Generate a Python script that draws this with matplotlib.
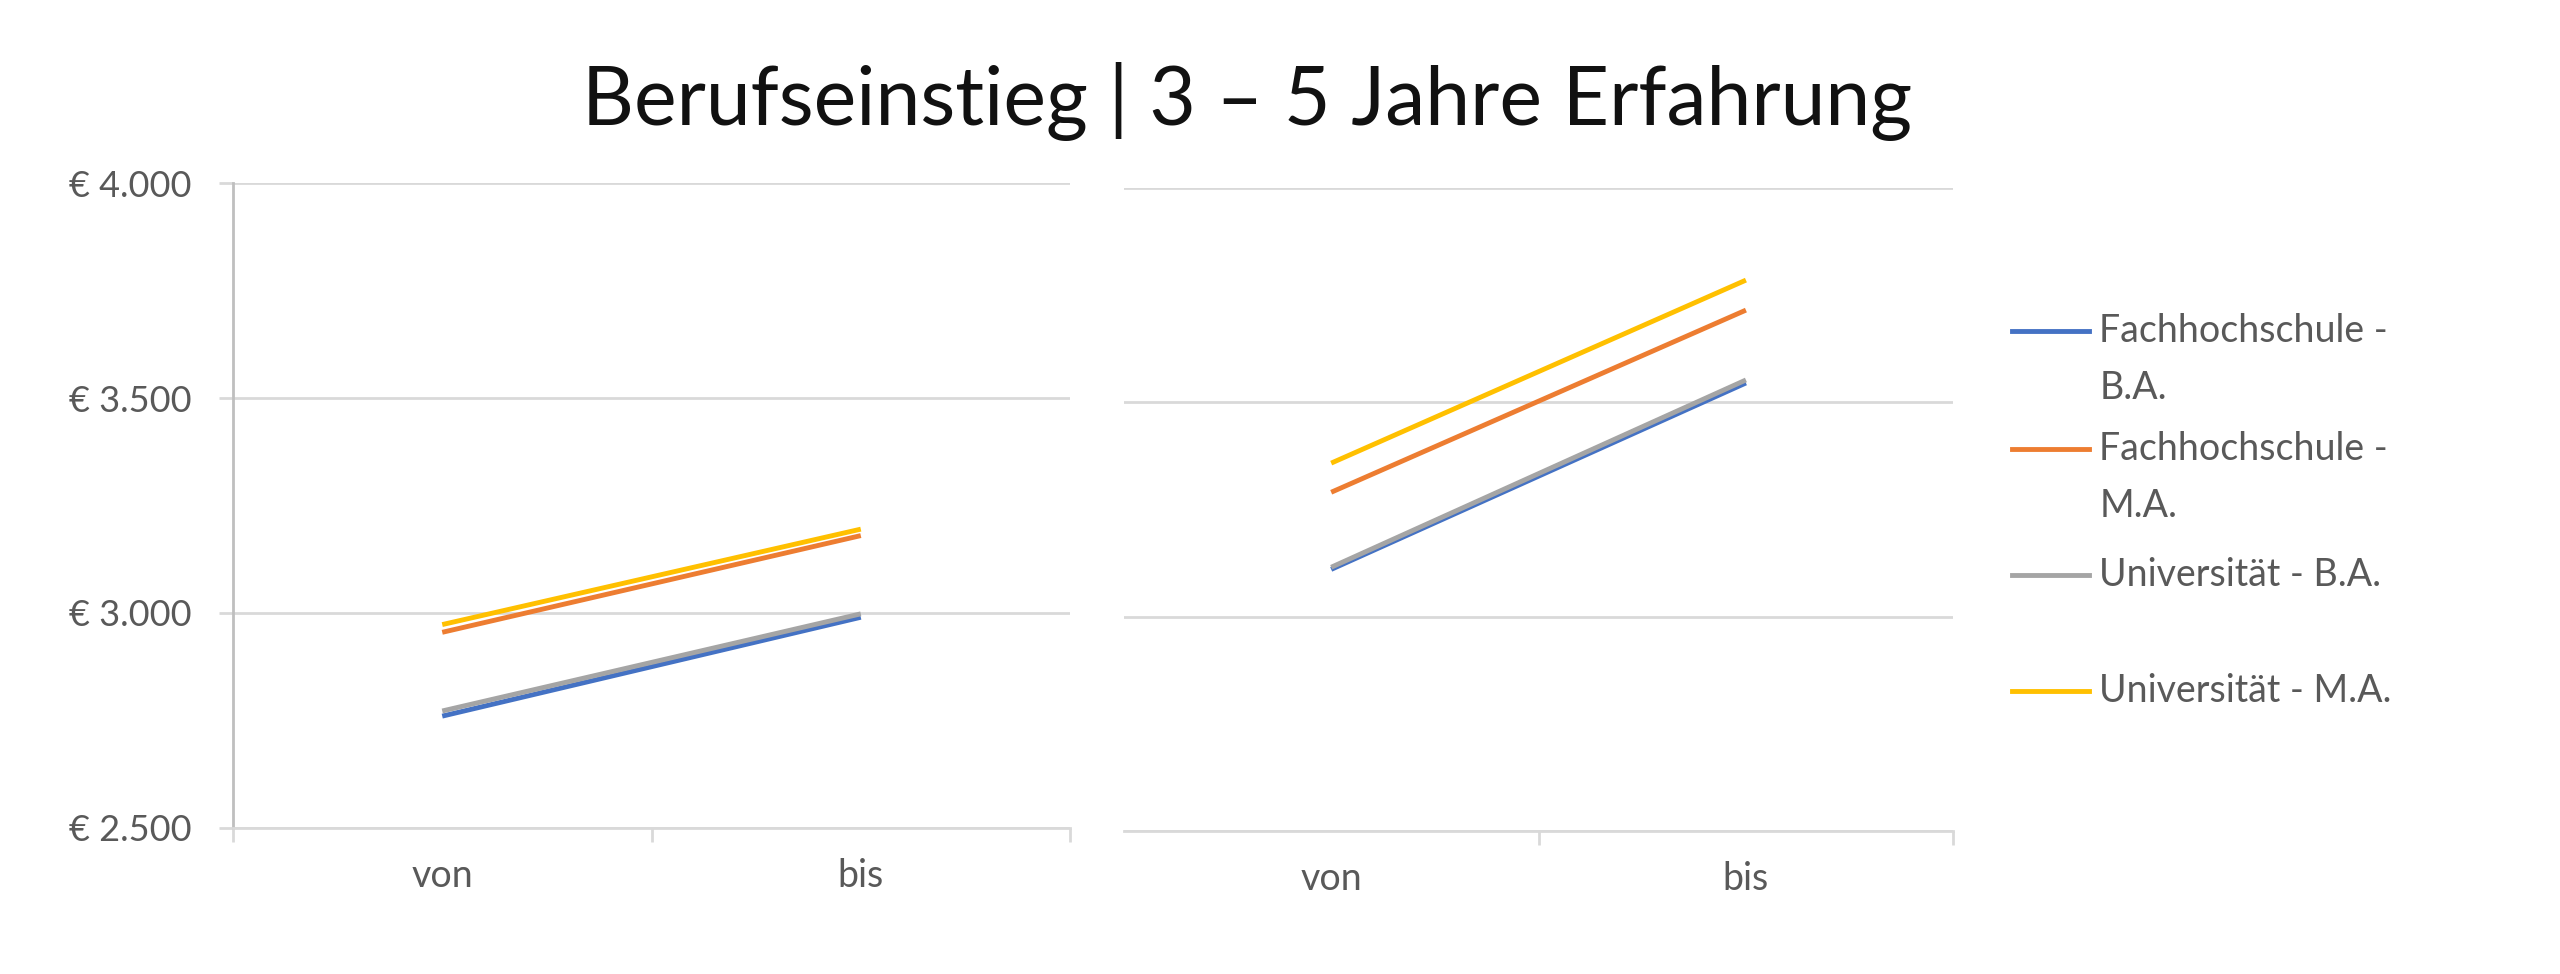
import matplotlib
matplotlib.use("Agg")
import matplotlib.pyplot as plt
from matplotlib.lines import Line2D
from matplotlib.ticker import FuncFormatter

plt.rcParams["font.family"] = ["Lato", "DejaVu Sans"]

categories = ["von", "bis"]
series_names = ["Fachhochschule - B.A.", "Fachhochschule - M.A.",
                "Universität - B.A.", "Universität - M.A."]
legend_labels = ["Fachhochschule -\nB.A.", "Fachhochschule -\nM.A.",
                 "Universität - B.A.", "Universität - M.A."]
colors = ["#4472C4", "#ED7D31", "#A5A5A5", "#FFC000"]

# linkes Diagramm: Berufseinstieg
fh_ba_left = [2760, 2990]
fh_ma_left = [2955, 3180]
uni_ba_left = [2772, 2998]
uni_ma_left = [2973, 3195]

# rechtes Diagramm: 3 - 5 Jahre Erfahrung
fh_ba_right = [3110, 3545]
fh_ma_right = [3290, 3715]
uni_ba_right = [3115, 3552]
uni_ma_right = [3358, 3785]

y_ticks = [2500, 3000, 3500, 4000]

grid_col = "#D9D9D9"
text_col = "#595959"

fig = plt.figure(figsize=(25.6, 9.74), dpi=100)
ax1 = fig.add_axes([0.091, 0.150, 0.327, 0.662])
ax2 = fig.add_axes([0.439, 0.147, 0.324, 0.660])

x = [0.5, 1.5]
left_data = [fh_ba_left, fh_ma_left, uni_ba_left, uni_ma_left]
right_data = [fh_ba_right, fh_ma_right, uni_ba_right, uni_ma_right]

for ax, data in [(ax1, left_data), (ax2, right_data)]:
    for vals, c, name in zip(data, colors, series_names):
        ax.plot(x, vals, color=c, lw=3.5, label=name, solid_capstyle="butt")
    ax.set_xlim(0, 2)
    ax.set_ylim(2500, 4000)
    ax.set_yticks(y_ticks)
    ax.grid(axis="y", color=grid_col, lw=2)
    ax.set_axisbelow(True)
    for s in ["top", "right"]:
        ax.spines[s].set_visible(False)
    ax.spines["bottom"].set_color(grid_col)
    ax.spines["bottom"].set_linewidth(2)
    ax.set_xticks(x)
    ax.set_xticklabels(categories, fontsize=27, color=text_col)
    ax.tick_params(axis="x", which="major", length=0, pad=22)
    ax.tick_params(axis="x", which="minor", length=10, width=2, color=grid_col)

ax1.set_xticks([0, 1, 2], minor=True)
ax1.spines["left"].set_color("#BFBFBF")
ax1.spines["left"].set_linewidth(2)
ax1.yaxis.set_major_formatter(FuncFormatter(lambda v, p: "€ " + f"{v:,.0f}".replace(",", ".")))
ax1.tick_params(axis="y", length=10, width=2, color=grid_col, labelsize=26,
                labelcolor=text_col, pad=20)

ax2.set_xticks([1, 2], minor=True)
ax2.spines["left"].set_visible(False)
ax2.tick_params(axis="y", length=0, labelleft=False)

# Legende
leg_y = [0.660, 0.539, 0.410, 0.291]
for lab, c, yy in zip(legend_labels, colors, leg_y):
    fig.add_artist(Line2D([0.786, 0.816], [yy, yy], transform=fig.transFigure,
                          color=c, lw=3.5))
    for i, line in enumerate(lab.split("\n")):
        fig.text(0.820, yy - i * 0.058, line, fontsize=27, color=text_col,
                 ha="left", va="center")

fig.text(0.487, 0.896, "Berufseinstieg | 3 – 5 Jahre Erfahrung", fontsize=58,
         color="#111111", ha="center", va="center")

fig.savefig("out.png", dpi=100, facecolor="white")
